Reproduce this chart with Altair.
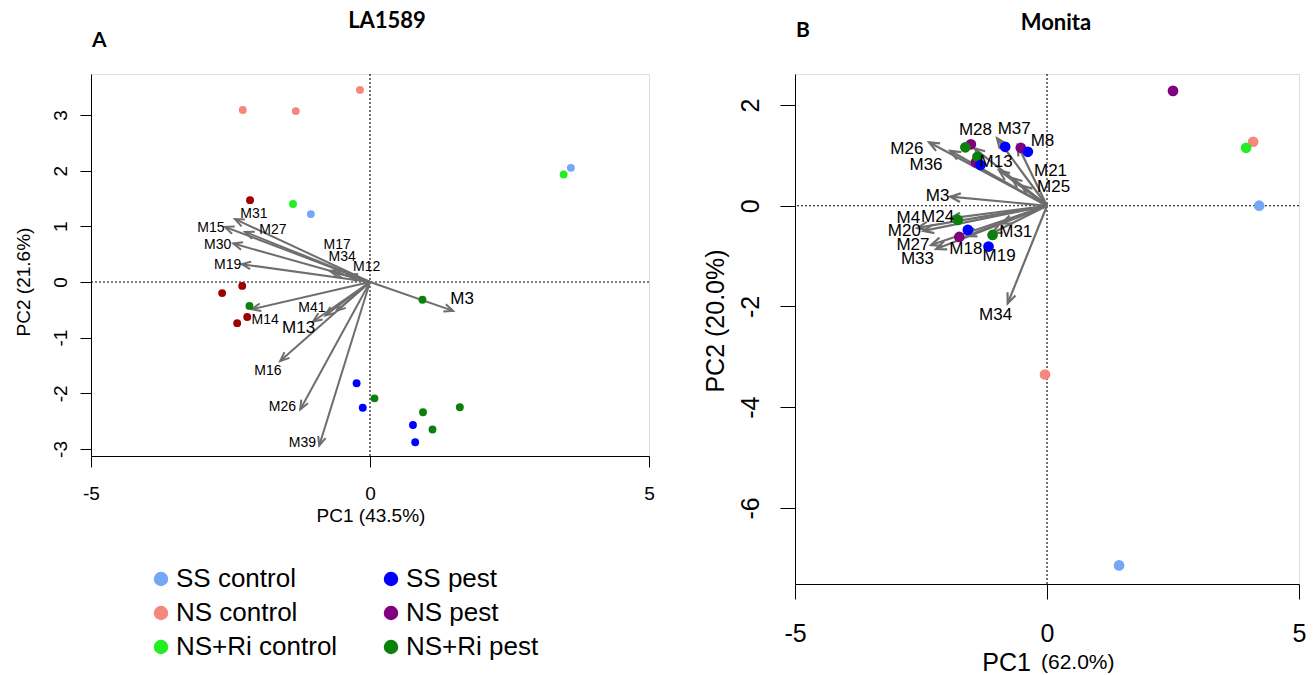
import math
import altair as alt
import pandas as pd

FONT = "Liberation Sans"
TFONT = "Lato"

# ---------------- data: panel A (LA1589) ----------------
a_group = ["SS control", "SS control",
           "NS control", "NS control", "NS control",
           "NS+Ri control", "NS+Ri control",
           "NS pest", "NS pest", "NS pest", "NS pest", "NS pest",
           "NS+Ri pest", "NS+Ri pest", "NS+Ri pest", "NS+Ri pest", "NS+Ri pest", "NS+Ri pest",
           "SS pest", "SS pest", "SS pest", "SS pest"]
a_pc1 = [3.60, -1.06,
         -2.28, -1.33, -0.18,
         3.47, -1.38,
         -2.15, -2.65, -2.29, -2.20, -2.38,
         -2.16, 0.94, 0.08, 0.95, 1.61, 1.12,
         -0.24, -0.13, 0.77, 0.81]
a_pc2 = [2.05, 1.22,
         3.09, 3.07, 3.45,
         1.93, 1.40,
         1.47, -0.20, -0.07, -0.63, -0.74,
         -0.43, -0.32, -2.09, -2.34, -2.25, -2.65,
         -1.82, -2.26, -2.57, -2.88]

a_var = ["M31", "M15", "M27", "M30", "M19", "M17", "M34", "M12", "M3",
         "M14", "M41", "M13", "", "M16", "M26", "M39"]
a_load1 = [-2.42, -2.60, -2.24, -2.45, -2.30, -0.72, -0.63, -0.39, 1.49,
           -2.12, -1.02, -0.80, -0.60, -1.61, -1.25, -0.91]
a_load2 = [1.13, 0.99, 0.90, 0.69, 0.32, 0.20, 0.17, 0.13, -0.52,
           -0.49, -0.71, -0.60, -0.52, -1.42, -2.29, -2.94]
a_lab1 = [-2.08, -2.85, -1.74, -2.73, -2.55, -0.59, -0.50, -0.06, 1.65,
          -1.88, -1.04, -1.28, 0.0, -1.83, -1.57, -1.21]
a_lab2 = [1.23, 0.97, 0.93, 0.66, 0.31, 0.66, 0.45, 0.27, -0.31,
          -0.68, -0.46, -0.82, 0.0, -1.60, -2.24, -2.90]

# ---------------- data: panel B (Monita) ----------------
b_group = ["NS pest", "NS pest", "NS pest", "NS pest", "NS pest",
           "NS+Ri pest", "NS+Ri pest", "NS+Ri pest", "NS+Ri pest",
           "SS pest", "SS pest", "SS pest", "SS pest", "SS pest",
           "SS control", "SS control",
           "NS control", "NS control",
           "NS+Ri control"]
b_pc1 = [-1.51, -0.52, -1.41, -1.74, 2.50,
         -1.62, -1.38, -1.77, -1.08,
         -0.83, -0.38, -1.32, -1.57, -1.16,
         4.21, 1.43,
         4.09, -0.04,
         3.95]
b_pc2 = [1.22, 1.15, 0.86, -0.62, 2.28,
         1.16, 0.97, -0.28, -0.58,
         1.17, 1.07, 0.81, -0.48, -0.81,
         0.00, -7.14,
         1.27, -3.35,
         1.15]

b_var = ["M26", "M36", "M28", "M37", "M8", "M13", "M21", "M25", "M3",
         "M4", "M24", "M20", "M27", "M33", "M18", "M31", "M19", "M34"]
b_load1 = [-2.34, -1.92, -1.44, -0.99, -0.58, -0.95, -0.70, -0.50, -1.92,
           -2.57, -1.92, -2.45, -2.30, -2.20, -1.60, -0.90, -1.10, -0.78]
b_load2 = [1.26, 1.09, 1.14, 1.34, 1.20, 0.70, 0.55, 0.40, 0.18,
           -0.44, -0.25, -0.50, -0.78, -0.86, -0.60, -0.35, -0.55, -1.94]
b_lab1 = [-2.78, -2.40, -1.42, -0.65, -0.09, -1.01, 0.07, 0.13, -2.17,
          -2.75, -2.17, -2.83, -2.66, -2.57, -1.61, -0.62, -0.95, -1.02]
b_lab2 = [1.12, 0.81, 1.50, 1.53, 1.28, 0.86, 0.69, 0.38, 0.20,
          -0.25, -0.22, -0.50, -0.78, -1.05, -0.85, -0.52, -0.99, -2.17]

legend_order = ["SS control", "NS control", "NS+Ri control",
                "SS pest", "NS pest", "NS+Ri pest"]
legend_colors = ["#77A6F7", "#F6877D", "#22EE22", "#0000FF", "#800080", "#0C800C"]
A_NS_PEST_COLOR = "#A00000"
ARROW = "#6E6E6E"

# ---------------- layout (pixels) ----------------
A_W, A_H = 558, 382
B_W, B_H = 504, 510
A_YDOM = [-3.126, 3.736]
B_YDOM = [-7.509, 2.615]
XDOM = [-5, 5]


def arrow_frame(names, l1, l2, lx, ly, w, h, ydom):
    sx = w / (XDOM[1] - XDOM[0])
    sy = h / (ydom[1] - ydom[0])
    df = pd.DataFrame({"name": names, "pc1": l1, "pc2": l2, "lx": lx, "ly": ly})
    df["x0"] = 0.0
    df["y0"] = 0.0
    df["ang"] = [(math.degrees(math.atan2(a * sx, b * sy)) + 360.0) % 360.0
                 for a, b in zip(l1, l2)]
    return df


def panel(pts, arrows, w, h, ydom, yvals, tick, lab_fs, padx, pady,
          pt_size, head_size, arrow_w, arr_fs, big_labels, big_fs,
          dark_color, texts):
    xs = alt.Scale(domain=XDOM, nice=False, zero=False)
    ys = alt.Scale(domain=ydom, nice=False, zero=False)
    xax = alt.Axis(values=[-5, 0, 5], title=None, grid=False, tickSize=tick,
                   labelFontSize=lab_fs, labelPadding=padx, labelFont=FONT,
                   labelExpr="'' + datum.value", domainColor="black",
                   tickColor="black", labelColor="black", labelFlush=False)
    yax = alt.Axis(values=yvals, title=None, grid=False, tickSize=tick,
                   labelFontSize=lab_fs, labelPadding=pady, labelFont=FONT,
                   labelAngle=270, labelAlign="center", labelBaseline="alphabetic",
                   labelExpr="'' + datum.value", domainColor="black",
                   tickColor="black", labelColor="black", labelFlush=False)

    def X(f):
        return alt.X(f, type="quantitative", scale=xs, axis=xax)

    def Y(f):
        return alt.Y(f, type="quantitative", scale=ys, axis=yax)

    zero = pd.DataFrame({"v": [0.0]})
    vline = alt.Chart(zero).mark_rule(color="black", strokeDash=[2, 2], strokeWidth=1.1).encode(x=X("v"))
    hline = alt.Chart(zero).mark_rule(color="black", strokeDash=[2, 2], strokeWidth=1.1).encode(y=Y("v"))

    shafts = alt.Chart(arrows).mark_rule(color=ARROW, strokeWidth=arrow_w).encode(
        x=X("x0"), y=Y("y0"), x2="pc1:Q", y2="pc2:Q")
    heads = alt.Chart(arrows).mark_point(
        shape="M-0.42,1L0,0L0.42,1", filled=False, color=ARROW,
        strokeWidth=arrow_w, size=head_size, opacity=1).encode(
        x=X("pc1"), y=Y("pc2"), angle=alt.Angle("ang:Q", scale=None))

    legend = alt.Legend(title=None, orient="none", legendX=57, legendY=492,
                        columns=2, columnPadding=40, rowPadding=8,
                        symbolType="circle", symbolSize=210, symbolStrokeWidth=0,
                        labelFontSize=26, labelFont=FONT, labelColor="black",
                        labelOffset=2, padding=0, labelLimit=400)
    color = alt.Color("group:N", scale=alt.Scale(domain=legend_order, range=legend_colors),
                      legend=legend)
    if dark_color:
        main_pts = pts[pts["group"] != "NS pest"]
        dark_pts = pts[pts["group"] == "NS pest"]
    else:
        main_pts = pts
        dark_pts = None
    points = alt.Chart(main_pts).mark_circle(size=pt_size, opacity=1).encode(
        x=X("pc1"), y=Y("pc2"), color=color)
    layers = [vline, hline, shafts, heads]
    if dark_pts is not None:
        layers.append(alt.Chart(dark_pts).mark_circle(size=pt_size, opacity=1, color=dark_color).encode(
            x=X("pc1"), y=Y("pc2")))
    layers.append(points)

    labeled = arrows[arrows["name"] != ""]
    small = labeled[~labeled["name"].isin(big_labels)]
    big = labeled[labeled["name"].isin(big_labels)]
    layers.append(alt.Chart(small).mark_text(font=FONT, fontSize=arr_fs, color="black").encode(
        x=X("lx"), y=Y("ly"), text="name:N"))
    if len(big):
        layers.append(alt.Chart(big).mark_text(font=FONT, fontSize=big_fs, color="black").encode(
            x=X("lx"), y=Y("ly"), text="name:N"))

    for t in texts:
        props = dict(t["props"])
        layers.append(alt.Chart(pd.DataFrame({"t": [t["text"]]})).mark_text(**props).encode(
            text="t:N", x=alt.value(t["x"]), y=alt.value(t["y"])))
    return alt.layer(*layers).properties(width=w, height=h)


pts_a = pd.DataFrame({"group": a_group, "pc1": a_pc1, "pc2": a_pc2})
pts_b = pd.DataFrame({"group": b_group, "pc1": b_pc1, "pc2": b_pc2})
arr_a = arrow_frame(a_var, a_load1, a_load2, a_lab1, a_lab2, A_W, A_H, A_YDOM)
arr_b = arrow_frame(b_var, b_load1, b_load2, b_lab1, b_lab2, B_W, B_H, B_YDOM)

title_props = dict(font=TFONT, fontWeight="bold", fontSize=22, color="black")
texts_a = [
    {"text": "LA1589", "x": 296, "y": -53, "props": dict(title_props, align="center", baseline="middle")},
    {"text": "A", "x": 1, "y": -33, "props": dict(title_props, fontSize=21, align="left", baseline="middle")},
    {"text": "PC1 (43.5%)", "x": 280, "y": 442,
     "props": dict(font=FONT, fontSize=19, color="black", align="center", baseline="middle")},
    {"text": "PC2 (21.6%)", "x": -67, "y": 208,
     "props": dict(font=FONT, fontSize=19, color="black", align="center", baseline="middle", angle=270)},
]
texts_b = [
    {"text": "Monita", "x": 261, "y": -51, "props": dict(title_props, align="center", baseline="middle")},
    {"text": "B", "x": 1, "y": -43, "props": dict(title_props, fontSize=21, align="left", baseline="middle")},
    {"text": "PC1", "x": 236, "y": 589,
     "props": dict(font=FONT, fontSize=25, color="black", align="right", baseline="middle")},
    {"text": "(62.0%)", "x": 246, "y": 589,
     "props": dict(font=FONT, fontSize=21, color="black", align="left", baseline="middle")},
    {"text": "PC2 (20.0%)", "x": -79, "y": 247,
     "props": dict(font=FONT, fontSize=25, color="black", align="center", baseline="middle", angle=270)},
]

anchor = alt.Chart(pd.DataFrame({"a": [0]})).mark_rule(strokeOpacity=0, color="white").encode(
    x=alt.value(-90), x2=alt.value(-90), y=alt.value(-73), y2=alt.value(-72))

chart_a = panel(pts_a, arr_a, A_W, A_H, A_YDOM, [-3, -2, -1, 0, 1, 2, 3], 11, 19, 17, 14,
                62, 330, 2, 14, ["M13", "M3"], 17, A_NS_PEST_COLOR, texts_a)
chart_a = alt.layer(chart_a, anchor)
chart_b = panel(pts_b, arr_b, B_W, B_H, B_YDOM, [-6, -4, -2, 0, 2], 15, 25, 22, 22,
                115, 420, 2.2, 17, [], 17, None, texts_b)

chart = alt.hconcat(chart_a, chart_b, spacing=146, bounds="flush").properties(
    padding={"left": 0, "top": 0, "right": 0, "bottom": 0}
).configure_view(stroke="#333333", strokeWidth=1).configure(background="white")

chart.save("out.html", embed_options={"renderer": "svg", "actions": False})
